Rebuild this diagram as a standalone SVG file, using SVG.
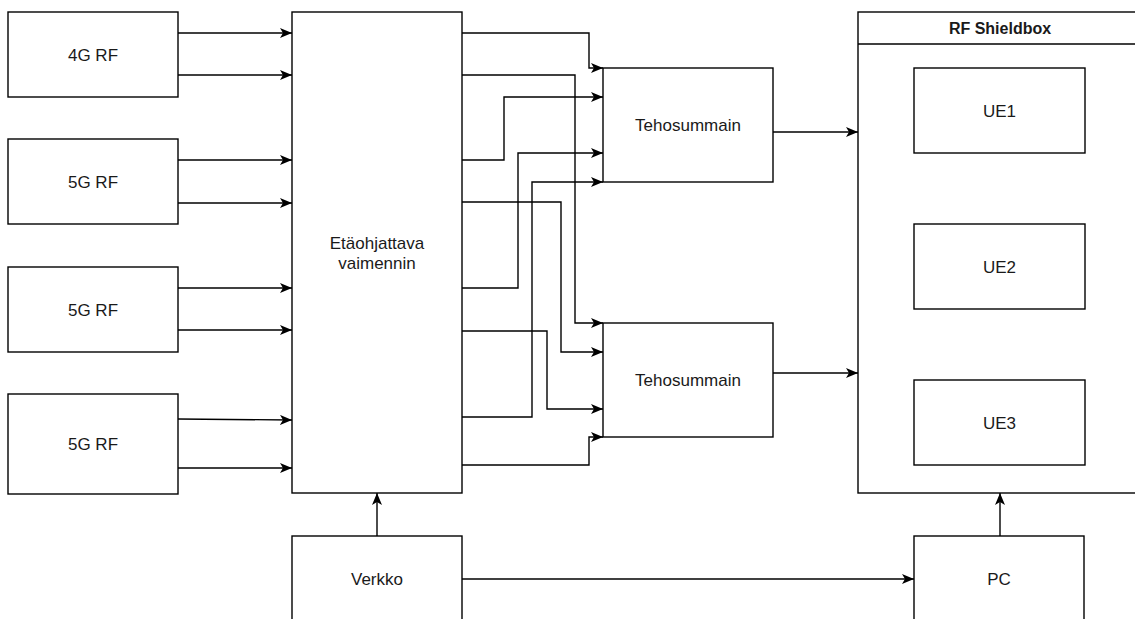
<svg xmlns="http://www.w3.org/2000/svg" width="1135" height="619" viewBox="0 0 1135 619">
<style>
.box{fill:#fff;stroke:#000;stroke-width:1.4}
.lbl{font-family:"Liberation Sans",Arial,sans-serif;font-size:17px;fill:#1a1a1a;text-anchor:middle}
.ttl{font-family:"Liberation Sans",Arial,sans-serif;font-size:16px;font-weight:bold;fill:#1a1a1a;text-anchor:middle}
.cn{fill:none;stroke:#000;stroke-width:1.4;marker-end:url(#arr)}
</style>
<defs>
<marker id="arr" viewBox="0 0 12 10" refX="12" refY="5" markerWidth="12" markerHeight="10" markerUnits="userSpaceOnUse" orient="auto">
<path d="M0,0 L12,5 L0,10 L3,5 Z" fill="#000"/>
</marker>
</defs>
<rect width="1135" height="619" fill="#fff"/>
<g id="shieldbox">
<rect class="box" x="858" y="12" width="284" height="481"/>
<line x1="858" y1="44" x2="1142" y2="44" stroke="#000" stroke-width="1.4"/>
<text class="ttl" x="1000" y="34">RF Shieldbox</text>
</g>
<g id="ue1"><rect class="box" x="914" y="68" width="171" height="85"/><text class="lbl" x="999.5" y="117">UE1</text></g>
<g id="ue2"><rect class="box" x="914" y="224" width="171" height="85"/><text class="lbl" x="999.5" y="273">UE2</text></g>
<g id="ue3"><rect class="box" x="914" y="380" width="171" height="85"/><text class="lbl" x="999.5" y="429">UE3</text></g>
<g id="rf4g"><rect class="box" x="8" y="12" width="170" height="85"/><text class="lbl" x="93" y="61">4G RF</text></g>
<g id="rf5g1"><rect class="box" x="8" y="139" width="170" height="85"/><text class="lbl" x="93" y="188">5G RF</text></g>
<g id="rf5g2"><rect class="box" x="8" y="267" width="170" height="85"/><text class="lbl" x="93" y="316">5G RF</text></g>
<g id="rf5g3"><rect class="box" x="8" y="394" width="170" height="100"/><text class="lbl" x="93" y="450">5G RF</text></g>
<g id="attenuator"><rect class="box" x="292" y="12" width="170" height="481"/>
<text class="lbl" x="377" y="249">Etäohjattava</text><text class="lbl" x="377" y="269">vaimennin</text></g>
<g id="ts1"><rect class="box" x="603" y="68" width="170" height="114"/><text class="lbl" x="688" y="131">Tehosummain</text></g>
<g id="ts2"><rect class="box" x="603" y="323" width="170" height="114"/><text class="lbl" x="688" y="386">Tehosummain</text></g>
<g id="verkko"><rect class="box" x="292" y="536" width="170" height="85"/><text class="lbl" x="377" y="585">Verkko</text></g>
<g id="pc"><rect class="box" x="914" y="536" width="170" height="85"/><text class="lbl" x="999" y="585">PC</text></g>
<g id="connectors">
<path class="cn" d="M178,33 H292"/>
<path class="cn" d="M178,75 H292"/>
<path class="cn" d="M178,160 H292"/>
<path class="cn" d="M178,203 H292"/>
<path class="cn" d="M178,288 H292"/>
<path class="cn" d="M178,330 H292"/>
<path class="cn" d="M178,419 L292,420"/>
<path class="cn" d="M178,468 H292"/>
<path class="cn" d="M462,33 H589 V68 H603"/>
<path class="cn" d="M462,75 H575 V323 H603"/>
<path class="cn" d="M462,160 H504 V97 H603"/>
<path class="cn" d="M462,288 H518 V153 H603"/>
<path class="cn" d="M462,417 H532 V182 H603"/>
<path class="cn" d="M462,202 H561 V352 H603"/>
<path class="cn" d="M462,331 H547 V409 H603"/>
<path class="cn" d="M462,465 H589 V437 H603"/>
<path class="cn" d="M773,132 H858"/>
<path class="cn" d="M773,373 H858"/>
<path class="cn" d="M377,536 V493"/>
<path class="cn" d="M462,579 H914"/>
<path class="cn" d="M1000,536 V493"/>
</g>
</svg>
